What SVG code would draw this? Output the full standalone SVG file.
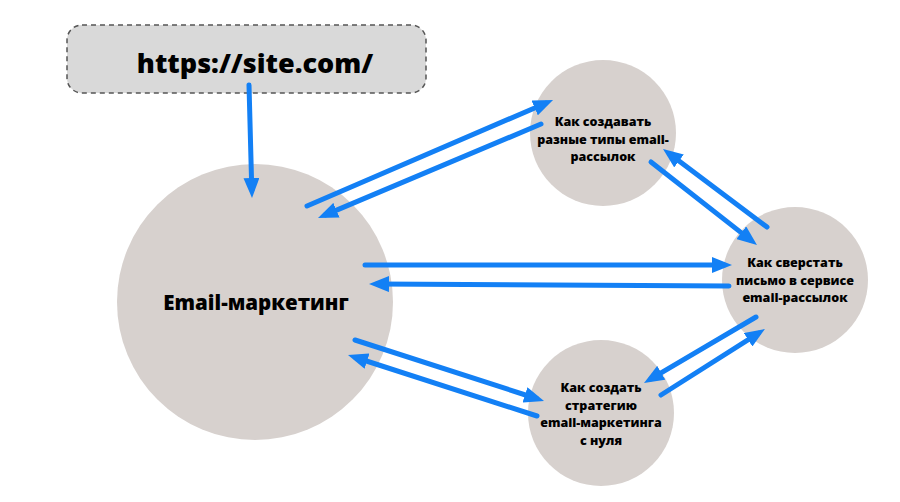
<svg xmlns="http://www.w3.org/2000/svg" width="900" height="502" viewBox="0 0 900 502">
<defs>
<marker id="ah" viewBox="0 0 20 16" markerUnits="userSpaceOnUse" markerWidth="20" markerHeight="16" refX="12" refY="8" orient="auto">
<path d="M0,0 L20,8 L0,16 z" fill="#1380f5"/>
</marker>
</defs>
<style>
.c{fill:#d7d1ce}
.t{font-family:"Open Sans","DejaVu Sans",sans-serif;font-weight:800;fill:#000;text-anchor:middle}
.s{font-size:12.5px}
.e{fill:none;stroke:#1380f5;stroke-width:5;stroke-linecap:round;marker-end:url(#ah)}
</style>
<rect width="900" height="502" fill="#fff"/>
<g id="url">
<rect x="67" y="25" width="359" height="68" rx="15" fill="#d9d9d9" stroke="#555" stroke-width="1.5" stroke-dasharray="5,4"/>
<text class="t" x="255" y="73" font-size="27">https://site.com/</text>
</g>
<g id="main">
<circle class="c" cx="255" cy="302" r="138"/>
<text class="t" x="256" y="310" font-size="20.5">Email-маркетинг</text>
</g>
<g id="types">
<circle class="c" cx="603" cy="133" r="73"/>
<text class="t s" x="603"><tspan x="603" y="126">Как создавать</tspan><tspan x="603" y="143.5">разные типы email-</tspan><tspan x="603" y="161">рассылок</tspan></text>
</g>
<g id="layout">
<circle class="c" cx="795" cy="280" r="73"/>
<text class="t s" x="795"><tspan x="795" y="267">Как сверстать</tspan><tspan x="795" y="284.5">письмо в сервисе</tspan><tspan x="795" y="302">email-рассылок</tspan></text>
</g>
<g id="strategy">
<circle class="c" cx="601" cy="413" r="73"/>
<text class="t s" x="601"><tspan x="601" y="392">Как создать</tspan><tspan x="601" y="409.5">стратегию</tspan><tspan x="601" y="427">email-маркетинга</tspan><tspan x="601" y="444.5">с нуля</tspan></text>
</g>
<g id="connectors">
<line class="e" x1="249" y1="85" x2="251.8" y2="190"/>
<line class="e" x1="307" y1="206" x2="545.7" y2="103.2"/>
<line class="e" x1="541" y1="124" x2="325.4" y2="214.9"/>
<line class="e" x1="651" y1="162" x2="750.7" y2="240.1"/>
<line class="e" x1="767" y1="227" x2="669.4" y2="153.8"/>
<line class="e" x1="365" y1="265" x2="724" y2="265"/>
<line class="e" x1="729" y1="286" x2="377" y2="284"/>
<line class="e" x1="756" y1="317" x2="650.9" y2="378.9"/>
<line class="e" x1="661" y1="395" x2="758.2" y2="333.3"/>
<line class="e" x1="355" y1="340" x2="536.4" y2="398.5"/>
<line class="e" x1="537" y1="416" x2="355.6" y2="357.5"/>
</g>
</svg>
